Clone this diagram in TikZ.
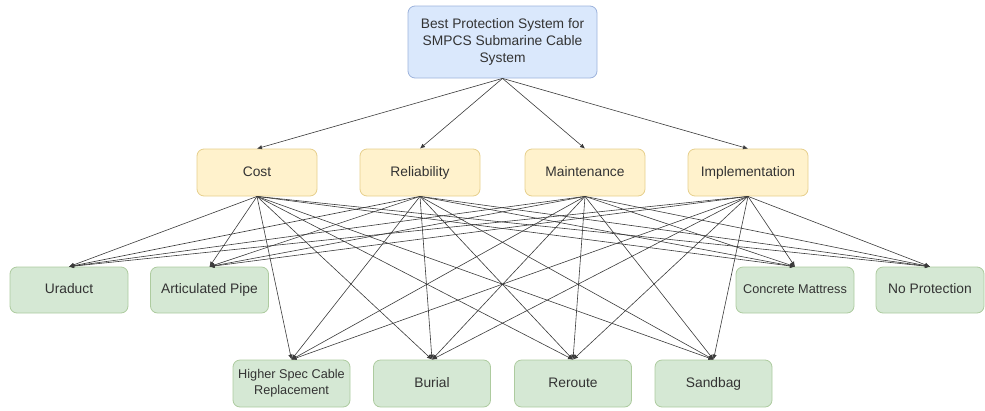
\documentclass[tikz,border=0pt]{standalone}
\usepackage{fontspec}
\setmainfont{Liberation Sans}
\usetikzlibrary{arrows.meta}
\definecolor{txt}{HTML}{333333}
\definecolor{bluefill}{HTML}{DAE8FC}
\definecolor{blueline}{HTML}{9DB3DC}
\definecolor{yelfill}{HTML}{FFF2CC}
\definecolor{yelline}{HTML}{E6CF8C}
\definecolor{grnfill}{HTML}{D5E8D4}
\definecolor{grnline}{HTML}{ADCB9F}
\definecolor{edgecol}{HTML}{3A3A3A}
\tikzset{
  box/.style={rectangle, rounded corners=7pt, inner sep=0pt, align=center, text=txt,
              font=\fontsize{13.8}{16.6}\selectfont, line width=0.8pt,
              text height=10pt, text depth=3pt},
  goalbox/.style={box, fill=bluefill, draw=blueline, minimum width=189pt, minimum height=72pt},
  critbox/.style={box, fill=yelfill, draw=yelline, minimum width=120pt, minimum height=47pt},
  altbox/.style={box, fill=grnfill, draw=grnline, minimum width=118pt, minimum height=46pt},
  smalltxt/.style={font=\fontsize{12.7}{15.9}\selectfont},
  link/.style={draw=edgecol, line width=0.6pt, -{Latex[length=5pt,width=4.4pt]}}
}
\begin{document}
\begin{tikzpicture}[x=1pt,y=-1pt]
\useasboundingbox (0,0) rectangle (985,410);
\node[goalbox, text height=, text depth=] (goal) at (502.5,42) {Best Protection System for\\SMPCS Submarine Cable\\System};
\node[critbox] (cost) at (257,172.5) {Cost};
\node[critbox] (rel) at (420,172.5) {Reliability};
\node[critbox] (main) at (585,172.5) {Maintenance};
\node[critbox] (impl) at (748,172.5) {Implementation};
\node[altbox] (ura) at (69,290) {Uraduct};
\node[altbox] (art) at (209.5,290) {Articulated Pipe};
\node[altbox, smalltxt] (con) at (795,290) {Concrete Mattress};
\node[altbox, minimum width=108pt] (nop) at (930,290) {No Protection};
\node[altbox, minimum width=117pt, minimum height=47pt, smalltxt, text height=, text depth=] (hsc) at (291.5,383.5) {Higher Spec Cable\\Replacement};
\node[altbox, minimum width=117pt, minimum height=47pt] (bur) at (432,383.5) {Burial};
\node[altbox, minimum width=117pt, minimum height=47pt] (rer) at (573,383.5) {Reroute};
\node[altbox, minimum width=117pt, minimum height=47pt] (san) at (713.5,383.5) {Sandbag};
\foreach \c in {cost,rel,main,impl}{
  \draw[link] (goal.south) -- (\c.north);
  \foreach \a in {ura,art,con,nop,hsc,bur,rer,san}{
    \draw[link] (\c.south) -- (\a.north);
  }
}
\end{tikzpicture}
\end{document}
